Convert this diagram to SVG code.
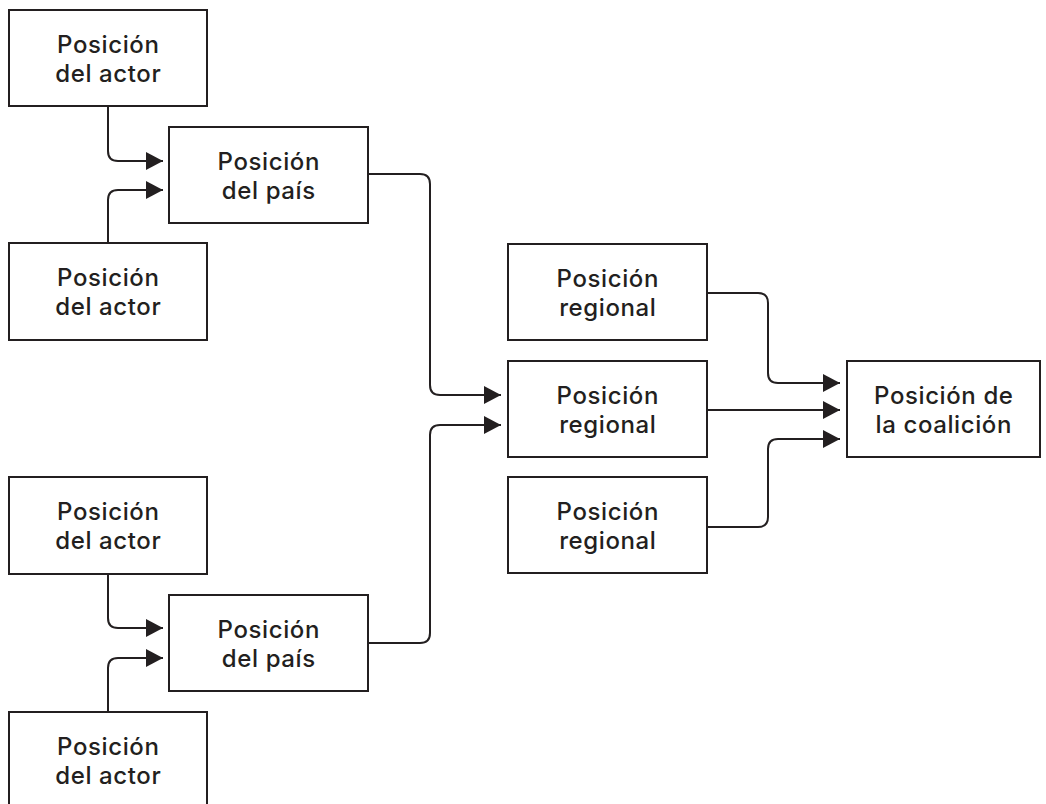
<svg xmlns="http://www.w3.org/2000/svg" width="1046" height="804" viewBox="0 0 1046 804">
<defs>
<style>
.box{fill:#fff;stroke:#231f20;stroke-width:2}
.lbl{font-family:"Inter","Noto Sans","Liberation Sans",sans-serif;font-size:24px;font-weight:500;letter-spacing:0.6px;fill:#231f20;text-anchor:middle}
.con{fill:none;stroke:#231f20;stroke-width:2;marker-end:url(#ah)}
</style>
<marker id="ah" markerUnits="userSpaceOnUse" markerWidth="17" markerHeight="18" refX="17" refY="9" orient="auto">
<path d="M0,0 L17,9 L0,18 Z" fill="#231f20"/>
</marker>
</defs>
<rect width="1046" height="804" fill="#fff"/>
<g id="connectors">
<path class="con" d="M108,106 V151 Q108,161 118,161 H163"/>
<path class="con" d="M108,243 V200 Q108,190 118,190 H163"/>
<path class="con" d="M108,574 V618 Q108,628 118,628 H163"/>
<path class="con" d="M108,712 V668 Q108,658 118,658 H163"/>
<path class="con" d="M368,174 H420 Q430,174 430,184 V385 Q430,395 440,395 H501"/>
<path class="con" d="M368,643 H420 Q430,643 430,633 V435 Q430,425 440,425 H501"/>
<path class="con" d="M707,293 H758 Q768,293 768,303 V373 Q768,383 778,383 H840"/>
<path class="con" d="M707,410 H840"/>
<path class="con" d="M707,527 H758 Q768,527 768,517 V449 Q768,439 778,439 H840"/>
</g>
<g id="actor1"><rect class="box" x="9" y="10" width="198" height="96"/><text class="lbl" x="108.3" y="53">Posición</text><text class="lbl" x="108.3" y="82">del actor</text></g>
<g id="actor2"><rect class="box" x="9" y="243" width="198" height="97"/><text class="lbl" x="108.3" y="286">Posición</text><text class="lbl" x="108.3" y="315">del actor</text></g>
<g id="country1"><rect class="box" x="169" y="127" width="199" height="96"/><text class="lbl" x="268.8" y="170">Posición</text><text class="lbl" x="268.8" y="199">del país</text></g>
<g id="actor3"><rect class="box" x="9" y="477" width="198" height="97"/><text class="lbl" x="108.3" y="520">Posición</text><text class="lbl" x="108.3" y="549">del actor</text></g>
<g id="actor4"><rect class="box" x="9" y="712" width="198" height="110"/><text class="lbl" x="108.3" y="755">Posición</text><text class="lbl" x="108.3" y="784">del actor</text></g>
<g id="country2"><rect class="box" x="169" y="595" width="199" height="96"/><text class="lbl" x="268.8" y="638">Posición</text><text class="lbl" x="268.8" y="667">del país</text></g>
<g id="regional1"><rect class="box" x="508" y="244" width="199" height="96"/><text class="lbl" x="607.8" y="287">Posición</text><text class="lbl" x="607.8" y="316">regional</text></g>
<g id="regional2"><rect class="box" x="508" y="361" width="199" height="96"/><text class="lbl" x="607.8" y="404">Posición</text><text class="lbl" x="607.8" y="433">regional</text></g>
<g id="regional3"><rect class="box" x="508" y="477" width="199" height="96"/><text class="lbl" x="607.8" y="520">Posición</text><text class="lbl" x="607.8" y="549">regional</text></g>
<g id="coalition"><rect class="box" x="847" y="361" width="193" height="96"/><text class="lbl" x="943.8" y="404">Posición de</text><text class="lbl" x="943.8" y="433">la coalición</text></g>
</svg>
